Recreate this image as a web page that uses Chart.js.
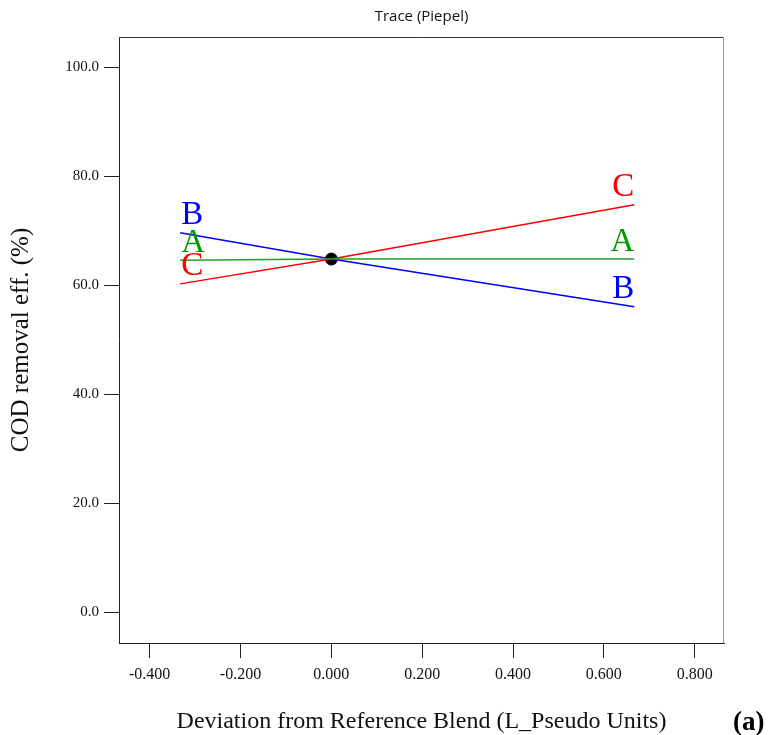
<!DOCTYPE html>
<html>
<head>
<meta charset="utf-8">
<script src="https://cdn.jsdelivr.net/npm/chart.js@4.4.1/dist/chart.umd.min.js"></script>
<style>
  html, body { margin: 0; padding: 0; background: #fff; }
  #wrap { width: 768px; height: 735px; }
</style>
</head>
<body>
<div id="wrap"><canvas id="trace_chart" width="768" height="735"></canvas></div>
<script>
// data
const deviation = [-0.333, 0, 0.667];
const seriesNames = ["A", "B", "C"];
const traceA = [64.65, 64.85, 64.85];
const traceB = [69.7, 64.85, 56.1];
const traceC = [60.3, 64.85, 74.8];
const refPoint = [{ x: 0, y: 64.85 }];
const xTicks = [-0.4, -0.2, 0, 0.2, 0.4, 0.6, 0.8];
const yTicks = [0, 20, 40, 60, 80, 100];

const lineColors = ["#22a022", "#0000ff", "#ff0000"];
const textColors = ["#009900", "#0000ff", "#ff0000"];

const ctx = document.querySelector("#trace_chart").getContext("2d");

const toPoints = (vals) => vals.map((v, i) => ({ x: deviation[i], y: v }));

// extra text + frame
const decorations = {
    id: "decorations",
    afterDraw(chart) {
        const c = chart.ctx;
        const area = chart.chartArea;
        c.save();

        // top and right frame
        c.lineWidth = 1;
        c.strokeStyle = "#333";
        c.beginPath();
        c.moveTo(area.left, area.top + 0.5);
        c.lineTo(area.right, area.top + 0.5);
        c.stroke();
        c.strokeStyle = "#9a9a9a";
        c.beginPath();
        c.moveTo(area.right - 0.5, area.top);
        c.lineTo(area.right - 0.5, area.bottom);
        c.stroke();

        // title
        c.fillStyle = "#111";
        c.font = "15px 'Open Sans'";
        c.textAlign = "center";
        c.textBaseline = "middle";
        c.fillText("Trace (Piepel)", (area.left + area.right) / 2, 17);

        // axis titles
        c.font = "24px 'Liberation Serif'";
        c.textBaseline = "alphabetic";
        c.fillText("Deviation from Reference Blend (L_Pseudo Units)", (area.left + area.right) / 2, 728);
        c.save();
        c.translate(28, (area.top + area.bottom) / 2);
        c.rotate(-Math.PI / 2);
        c.font = "25px 'Liberation Serif'";
        c.fillText("COD removal eff. (%)", 0, 0);
        c.restore();

        c.font = "bold 27px 'Liberation Serif'";
        c.textAlign = "left";
        c.fillStyle = "#000";
        c.fillText("(a)", 733, 730);

        // series letters at both ends of each trace
        c.font = "33px 'Liberation Serif'";
        seriesNames.forEach((name, i) => {
            const pts = chart.getDatasetMeta(i).data;
            const first = pts[0];
            const last = pts[pts.length - 1];
            c.fillStyle = textColors[i];
            c.textAlign = "left";
            c.fillText(name, first.x + 1, first.y - 8.5);
            c.textAlign = "right";
            c.fillText(name, last.x, last.y - 8.5);
        });

        c.restore();
    },
};

const lineSet = (vals, i) => ({
    label: seriesNames[i],
    data: toPoints(vals),
    borderColor: lineColors[i],
    borderWidth: 1.5,
    pointRadius: 0,
    fill: false,
    tension: 0,
});

const chart = new Chart(ctx, {
    type: "line",
    data: {
        datasets: [
            lineSet(traceA, 0),
            lineSet(traceB, 1),
            lineSet(traceC, 2),
            {
                type: "scatter",
                label: "ref",
                data: refPoint,
                backgroundColor: "#000",
                borderColor: "#000",
                pointRadius: 6,
            },
        ],
    },
    options: {
        responsive: false,
        animation: false,
        devicePixelRatio: 1,
        layout: {
            padding: { left: 0, right: 44, top: 37, bottom: 0 },
        },
        plugins: {
            legend: { display: false },
            tooltip: { enabled: false },
        },
        scales: {
            x: {
                type: "linear",
                min: -0.4676,
                max: 0.8645,
                afterBuildTicks: (s) => { s.ticks = xTicks.map((v) => ({ value: v })); },
                afterFit: (s) => { s.height = 92; },
                ticks: {
                    autoSkip: false,
                    maxRotation: 0,
                    padding: 7,
                    color: "#111",
                    font: { family: "'Liberation Serif'", size: 16 },
                    callback: (v) => Number(v).toFixed(3),
                },
                grid: {
                    drawOnChartArea: false,
                    drawTicks: true,
                    tickLength: 15,
                    tickColor: "#222",
                },
                border: { display: true, color: "#222", width: 1 },
            },
            y: {
                type: "linear",
                min: -5.6,
                max: 105.6,
                afterBuildTicks: (s) => { s.ticks = yTicks.map((v) => ({ value: v })); },
                afterFit: (s) => { s.width = 119; },
                ticks: {
                    padding: 5,
                    color: "#111",
                    font: { family: "'Liberation Serif'", size: 15 },
                    callback: (v) => Number(v).toFixed(1),
                },
                grid: {
                    drawOnChartArea: false,
                    drawTicks: true,
                    tickLength: 15,
                    tickColor: "#222",
                },
                border: { display: true, color: "#222", width: 1 },
            },
        },
    },
    plugins: [decorations],
});
</script>
</body>
</html>
